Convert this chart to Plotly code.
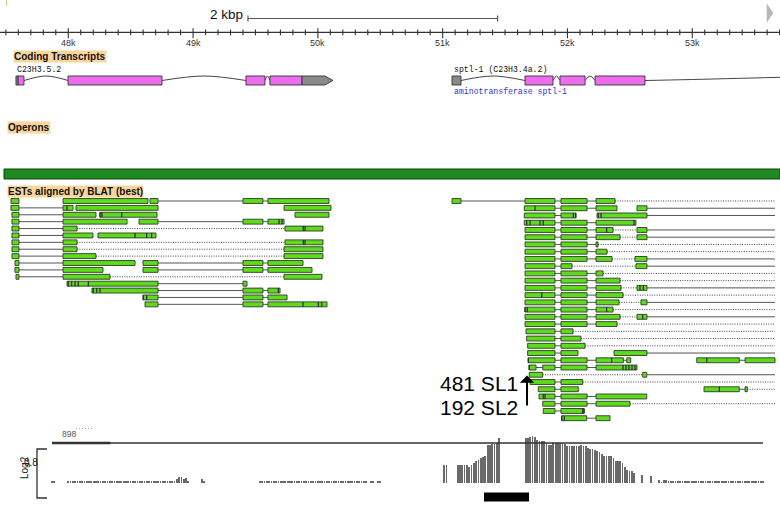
import plotly.graph_objects as go

W, H = 780, 509
VIEW_BP = [47453, 53703]          # visible genomic window (bp)
EST_EDGE = 53663                  # right edge of EST track

# ---------------- ruler ----------------
ruler_major_bp = [48000, 49000, 50000, 51000, 52000, 53000]
ruler_major_lab = ["48k", "49k", "50k", "51k", "52k", "53k"]
ruler_minor_bp = list(range(47500, 53701, 100))
scale_bar_bp = [49440, 51440]
scale_bar_label = "2 kbp"

track_titles = ["Coding Transcripts", "Operons", "ESTs aligned by BLAT (best)"]

# ---------------- gene models ----------------
gene_labels = ["C23H3.5.2", "sptl-1 (C23H3.4a.2)"]
gene_label_bp = [47573, 51073]
gene_desc = "aminotransferase sptl-1"
gene1_cap = [47581, 47597]
gene1_cds = [[47597, 47645], [47998, 48751], [49424, 49576], [49616, 49873]]
gene1_utr3 = [49873, 50057, 50121]
gene1_introns = [[47645, 47998], [48751, 49424], [49576, 49616]]
gene2_utr5 = [51075, 51147]
gene2_cds = [[51660, 51884], [51940, 52141], [52221, 52621]]
gene2_introns = [[51147, 51660], [51884, 51940], [52141, 52221]]
gene2_open_intron = [52621, 53000, 53703]

operon_span = [47485, 53703]

# ---------------- ESTs (left cluster) ----------------
left_exons = [
    [[47541, 47605], [47958, 48639], [48655, 48719], [49400, 49560], [49600, 50089]],
    [[47541, 47605], [47958, 48038], [48062, 48719], [49729, 50105]],
    [[47549, 47605], [47958, 48222], [48254, 48711], [49817, 50089]],
    [[47549, 47605], [47958, 48471], [48567, 48719], [49400, 49560], [49600, 49729]],
    [[47549, 47605], [47958, 48070], [49737, 50041]],
    [[47549, 47605], [47958, 48198], [48238, 48703]],
    [[47549, 47605], [47958, 48070], [49737, 50041]],
    [[47549, 47605], [47958, 48070], [49729, 50041]],
    [[47549, 47605], [47958, 48222], [49729, 50041]],
    [[47573, 47605], [47958, 48535], [48599, 48719], [49400, 49560], [49600, 49881]],
    [[47573, 47605], [47958, 48278], [48599, 48719], [49400, 49560], [49600, 49953]],
    [[47581, 47605], [47958, 48334], [49729, 50033]],
    [[47990, 48719], [49400, 49432]],
    [[48190, 48719], [49400, 49560], [49600, 49697]],
    [[48599, 48719], [49400, 49560], [49600, 49753]],
    [[48615, 48719], [49400, 49560], [49600, 50073]],
]
left_links = [
    ["", "", "solid", "solid"], ["solid", "", ""], ["solid", "", ""],
    ["solid", "", "solid", "solid"], ["solid", "dotted"], ["solid", ""],
    ["solid", "dotted"], ["solid", "dotted"], ["solid", "dotted"],
    ["solid", "", "solid", "solid"], ["solid", "", "solid", "solid"],
    ["solid", "dotted"], ["solid"], ["solid", "solid"], ["solid", "solid"],
    ["solid", "solid"],
]
left_tails = [""] * 16
left_marks = [(1, 47990), (2, 48254), (2, 48270), (2, 48428), (3, 49689), (3, 49713),
              (4, 49883), (4, 49897), (5, 48535), (5, 48628), (5, 48668),
              (6, 49883), (6, 49897), (12, 48000), (12, 48027), (12, 48054),
              (12, 48080), (12, 48161), (13, 48201), (13, 48228), (13, 48254),
              (13, 49683), (14, 48601), (14, 48628), (15, 49881), (15, 50004),
              (15, 50031)]

# ---------------- ESTs (right cluster) ----------------
right_exons = [
    [[51075, 51147], [51660, 51900], [51948, 52157], [52229, 52381]],
    [[51654, 51900], [51948, 52157], [52229, 52397], [52557, 52637]],
    [[51654, 51900], [51948, 52068], [52237, 52637]],
    [[51654, 51900], [51948, 52157], [52229, 52549]],
    [[51660, 51900], [51948, 52157], [52229, 52365], [52557, 52637]],
    [[51660, 51900], [51948, 52157], [52229, 52421], [52557, 52637]],
    [[51660, 51900], [51948, 52157], [52229, 52245]],
    [[51660, 51900], [51948, 52157], [52229, 52317]],
    [[51660, 51900], [51948, 52157], [52229, 52357], [52541, 52637]],
    [[51660, 51900], [51948, 52036], [52549, 52637]],
    [[51660, 51900], [51948, 52157], [52229, 52285]],
    [[51660, 51900], [51948, 52157], [52229, 52421]],
    [[51660, 51900], [51948, 52157], [52229, 52429], [52557, 52637]],
    [[51660, 51900], [51948, 52157], [52229, 52445]],
    [[51660, 51900], [51948, 52157], [52229, 52413], [52589, 52637]],
    [[51660, 51900], [51948, 52157], [52229, 52365]],
    [[51660, 51900], [51948, 52157], [52229, 52421], [52557, 52637]],
    [[51660, 51900], [51948, 52157], [52229, 52397]],
    [[51668, 51900], [51948, 52044]],
    [[51673, 51900], [51948, 52108]],
    [[51681, 51900], [51948, 52141]],
    [[51681, 51900], [51948, 52084], [52373, 52637]],
    [[51686, 51900], [51948, 52157], [52229, 52448], [52475, 52507], [53036, 53377], [53423, 53663]],
    [[51692, 51748], [51802, 51900], [51948, 52157], [52229, 52557]],
    [[51694, 51801], [52603, 52635]],
    [[51700, 51900], [51948, 52122]],
    [[51766, 51900], [51948, 52087], [53094, 53377], [53423, 53441]],
    [[51772, 51900], [51948, 52157], [52229, 52635]],
    [[51802, 51900], [51948, 52157], [52229, 52501]],
    [[51806, 51900], [51948, 52133]],
    [[51954, 52154], [52229, 52341]],
]
right_links = [
    ["solid", "solid", "solid"], ["solid", "solid", ""], ["solid", ""],
    ["solid", "solid"], ["solid", "solid", "dotted"], ["solid", "solid", "dotted"],
    ["solid", "solid"], ["solid", "solid"], ["solid", "solid", "dotted"],
    ["solid", "dotted"], ["solid", "solid"], ["solid", "solid"],
    ["solid", "solid", "dotted"], ["solid", "solid"], ["solid", "solid", "dotted"],
    ["solid", "solid"], ["solid", "solid", "dotted"], ["solid", "solid"],
    ["solid"], ["solid"], ["solid"], ["solid", ""],
    ["solid", "solid", "solid", "", "solid"], ["solid", "solid", "solid"],
    ["dotted"], ["solid"], ["solid", "", "solid"], ["solid", "solid"],
    ["solid", "solid"], ["solid"], ["solid"],
]
right_tails = ["dotted", "solid", "solid", "", "solid", "solid", "dotted", "dotted",
               "solid", "solid", "dotted", "dotted", "solid", "dotted", "solid",
               "dotted", "solid", "dotted", "dotted", "dotted", "dotted", "solid",
               "", "", "solid", "dotted", "dotted", "", "dotted", "", ""]
right_marks = [(1, 51740), (2, 52047), (2, 52066), (2, 52247), (2, 52269),
               (3, 51673), (3, 51700), (3, 51780), (3, 51806), (3, 52533),
               (4, 52314), (12, 52581), (12, 52608), (13, 51794), (15, 51660),
               (15, 51678), (15, 52314), (16, 52603), (22, 51686), (22, 52354),
               (22, 53116), (23, 51694), (23, 52445), (23, 52469), (23, 52493),
               (23, 52517), (23, 52541), (26, 53217), (27, 51806), (27, 51820),
               (29, 52122), (29, 52133), (30, 51954), (30, 51975)]

# ---------------- arrow call-out ----------------
arrow_bp = 51676
arrow_labels = ["481 SL1", "192 SL2"]

# ---------------- coverage histogram (Log2) ----------------
HIST_BIN = 18.5
hist_seg_start = [47870, 48000, 49069, 49536, 51013, 51120, 51665, 52595, 52736]
hist_seg_values = [
    [2, 2],
    [2, 2, 2, 2, 2, 2, 2, 2, 2, 2, 2, 2, 2, 2, 2, 2, 2, 2, 2, 2, 2, 2, 2, 2,
     2, 2, 2, 2, 2, 2, 2, 2, 2, 2, 2, 2, 2, 2, 2, 2, 2, 2, 2, 2, 2, 2, 2,
     4, 6, 6, 4, 5, 2],
    [4, 2],
    [2, 2, 2, 2, 2, 2, 2, 2, 2, 2, 2, 2, 2, 2, 2, 2, 2, 2, 2, 2, 2, 2, 2, 2,
     2, 2, 2, 2, 2, 2, 2, 2, 2, 2, 2, 2, 2, 2, 2, 2, 2, 2, 2, 2, 2, 2, 2,
     0, 2, 2, 0, 2, 2],
    [18, 18],
    [18, 18, 18, 18, 18, 16, 18, 20, 22, 23, 25, 26, 27, 38, 38, 39, 39, 40, 45],
    [45, 45, 46, 47, 46, 43, 42, 42, 42, 40, 38, 38, 40, 40, 40, 40, 40, 39,
     37, 37, 37, 37, 37, 37, 38, 37, 37, 35, 34, 34, 33, 32, 31, 29, 27, 27,
     27, 27, 25, 22, 22, 22, 20, 16, 13, 12, 12, 10],
    [8, 0, 0, 0, 7],
    [3, 1, 3, 3, 2, 2, 2, 2, 2, 2, 2, 2, 2, 2, 2, 2, 2, 2, 2, 2, 2, 2, 2, 2,
     2, 2, 2, 2, 2, 2, 2, 2, 2, 2, 2, 2, 2, 2, 2, 2, 2, 2, 2, 2, 2, 2],
]
hist_frame_bp = [47870, 48337, 53567]
hist_axis_labels = ["Log2", "0.8", "898"]
probe_span = [51331, 51692]

# =====================================================================
FONT = "Liberation Sans, Arial, sans-serif"
MONO = "Liberation Mono, DejaVu Sans Mono, monospace"
EST_FILL, EST_EDGE_COL = "#5edb1c", "#2e3a28"
PINK, GREY = "#ee6cee", "#8a8a8a"

fig = go.Figure()


def boxes(spans, yc, hh):
    xs, ys = [], []
    for s, e in spans:
        xs += [s, e, e, s, s, None]
        ys += [yc - hh, yc - hh, yc + hh, yc + hh, yc - hh, None]
    return xs, ys


# ---------- ruler ----------
tx, ty = [], []
for b in ruler_minor_bp:
    major = b in ruler_major_bp
    tx += [b, b, None]
    ty += [28.3 if major else 29.5, 38.3 if major else 35.3, None]
fig.add_trace(go.Scatter(x=tx, y=ty, mode="lines", line=dict(color="#333", width=1.1),
                         hoverinfo="skip"))
fig.add_trace(go.Scatter(x=[scale_bar_bp[0], scale_bar_bp[0], None, scale_bar_bp[0], scale_bar_bp[1],
                            None, scale_bar_bp[1], scale_bar_bp[1]],
                         y=[15.5, 21.5, None, 18.5, 18.5, None, 15.5, 21.5], mode="lines",
                         line=dict(color="#555", width=1.2), hoverinfo="skip"))

# ---------- gene models ----------
def intron(a, b, yb, peak):
    fig.add_trace(go.Scatter(x=[a, (a + b) / 2, b], y=[yb, yb - peak, yb], mode="lines",
                             line=dict(color="#444", width=1, shape="spline"), hoverinfo="skip"))

GY, GH = 80.5, 4.5
for a, b in gene1_introns + gene2_introns:
    intron(a, b, GY, 4.5)
fig.add_trace(go.Scatter(x=gene2_open_intron, y=[GY, GY - 1.0, GY - 3.2], mode="lines",
                         line=dict(color="#444", width=1, shape="spline"), hoverinfo="skip"))
xs, ys = boxes(gene1_cds + gene2_cds, GY, GH)
fig.add_trace(go.Scatter(x=xs, y=ys, mode="lines", fill="toself", fillcolor=PINK,
                         line=dict(color="#333", width=0.9), hoverinfo="skip"))
u0, u1, tip = gene1_utr3
gx = [u0, u1, tip, u1, u0, u0, None]
gy = [GY - GH, GY - GH, GY, GY + GH, GY + GH, GY - GH, None]
bx, by = boxes([gene2_utr5, gene1_cap], GY, GH)
fig.add_trace(go.Scatter(x=gx + bx, y=gy + by, mode="lines", fill="toself", fillcolor=GREY,
                         line=dict(color="#333", width=0.9), hoverinfo="skip"))

# ---------- ESTs ----------
def est_group(exons_l, links_l, tails_l, marks, y0, dy):
    sx, sy, dx, dyy, bx, by, mx, my = [], [], [], [], [], [], [], []
    hh = 2.45
    for lane, (ex, lk, tl) in enumerate(zip(exons_l, links_l, tails_l)):
        yc = y0 + dy * lane
        for i, kind in enumerate(lk):
            a, b = ex[i][1], ex[i + 1][0]
            if kind == "solid":
                sx += [a, b, None]; sy += [yc, yc, None]
            elif kind == "dotted":
                dx += [a, b, None]; dyy += [yc, yc, None]
        if tl == "solid":
            sx += [ex[-1][1], EST_EDGE, None]; sy += [yc, yc, None]
        elif tl == "dotted":
            dx += [ex[-1][1], EST_EDGE, None]; dyy += [yc, yc, None]
        x_, y_ = boxes(ex, yc, hh)
        bx += x_; by += y_
    for lane, b in marks:
        yc = y0 + dy * lane
        mx += [b, b, None]; my += [yc - hh, yc + hh, None]
    fig.add_trace(go.Scatter(x=sx, y=sy, mode="lines", line=dict(color="#555", width=1),
                             hoverinfo="skip"))
    fig.add_trace(go.Scatter(x=dx, y=dyy, mode="lines",
                             line=dict(color="#444", width=1, dash="1px,1.4px"), hoverinfo="skip"))
    fig.add_trace(go.Scatter(x=bx, y=by, mode="lines", fill="toself", fillcolor=EST_FILL,
                             line=dict(color=EST_EDGE_COL, width=0.9), hoverinfo="skip"))
    fig.add_trace(go.Scatter(x=mx, y=my, mode="lines", line=dict(color="#2a2a2a", width=1.2),
                             hoverinfo="skip"))

est_group(left_exons, left_links, left_tails, left_marks, 201.0, 6.89)
est_group(right_exons, right_links, right_tails, right_marks, 201.0, 7.24)

# ---------- histogram ----------
hx, hy = [], []
for s, vals in zip(hist_seg_start, hist_seg_values):
    for i, v in enumerate(vals):
        hx.append(s + i * HIST_BIN); hy.append(v)
fig.add_trace(go.Bar(x=hx, y=hy, width=6, marker=dict(color="#6a6a6a", line=dict(width=0)),
                     yaxis="y2", hoverinfo="skip"))

# ---------- shapes ----------
P = lambda px: px / W
shapes = [
    dict(type="line", xref="paper", yref="y", x0=0, x1=1, y0=32.3, y1=32.3,
         line=dict(color="#333", width=1.3)),
    dict(type="rect", xref="x", yref="y", x0=operon_span[0], x1=operon_span[1], y0=169, y1=179,
         fillcolor="#1f8a1f", line=dict(color="#124012", width=1)),
    dict(type="line", xref="x", yref="y", x0=hist_frame_bp[0], x1=hist_frame_bp[2], y0=443, y1=443,
         line=dict(color="#333", width=1.6), layer="above"),
    dict(type="line", xref="x", yref="y", x0=hist_frame_bp[0], x1=hist_frame_bp[1], y0=443, y1=443,
         line=dict(color="#333", width=2.4), layer="above"),
    dict(type="path", xref="paper", yref="y",
         path=f"M {P(47)},449 L {P(37)},449 L {P(37)},498 L {P(47)},498",
         line=dict(color="#333", width=1.3)),
    dict(type="rect", xref="x", yref="y", x0=probe_span[0], x1=probe_span[1], y0=492.5, y1=501.5,
         fillcolor="#000", line=dict(width=0)),
    dict(type="line", xref="paper", yref="y", x0=P(76), x1=P(92), y0=428.5, y1=428.5,
         line=dict(color="#aaa", width=1, dash="1px,2px")),
    dict(type="path", xref="paper", yref="y",
         path=f"M {P(766.7)},3.3 L {P(773.3)},13 L {P(766.7)},22.7 Z",
         fillcolor="#b8b8b8", line=dict(width=0)),
    dict(type="line", xref="paper", yref="y", x0=P(6.5), x1=P(6.5), y0=0, y1=6,
         line=dict(color="#d8c49a", width=1.2)),
]

# ---------- annotations ----------
ann = []
for b, lab in zip(ruler_major_bp, ruler_major_lab):
    ann.append(dict(x=b, y=42.7, xref="x", yref="y", text=lab, showarrow=False,
                    font=dict(family=FONT, size=9, color="#333")))
ann.append(dict(x=scale_bar_bp[0] - 25, y=14.5, xref="x", yref="y", text=scale_bar_label,
                xanchor="right", showarrow=False, font=dict(family=FONT, size=13.5, color="#111")))
for (xpx, ypx), t in zip([(12.7, 56), (7.3, 127), (7.3, 191.5)], track_titles):
    ann.append(dict(x=P(xpx), y=ypx, xref="paper", yref="y", text=f"<b>{t}</b>", xanchor="left",
                    showarrow=False, bgcolor="#f9d69c", borderpad=0,
                    font=dict(family=FONT, size=10, color="#111")))
for b, t in zip(gene_label_bp, gene_labels):
    ann.append(dict(x=b, y=69, xref="x", yref="y", text=t, xanchor="left", showarrow=False,
                    font=dict(family=MONO, size=8.2, color="#111")))
ann.append(dict(x=gene_label_bp[1], y=91, xref="x", yref="y", text=gene_desc, xanchor="left",
                showarrow=False, font=dict(family=MONO, size=8.2, color="#3434d8")))
ann.append(dict(x=arrow_bp, y=375.5, xref="x", yref="y", ax=arrow_bp, ay=407, axref="x", ayref="y",
                text="", showarrow=True, arrowhead=1, arrowsize=1.2, arrowwidth=2, arrowcolor="#000"))
for yy, t in zip([383.5, 407.5], arrow_labels):
    ann.append(dict(x=arrow_bp - 56, y=yy, xref="x", yref="y", text=t, xanchor="right",
                    showarrow=False, font=dict(family=FONT, size=21, color="#000")))
ann.append(dict(x=P(16.5), y=468, xref="paper", yref="y", text=hist_axis_labels[0],
                textangle=-90, showarrow=False, font=dict(family=FONT, size=10, color="#222")))
ann.append(dict(x=P(21.5), y=462.5, xref="paper", yref="y", text=hist_axis_labels[1],
                showarrow=False, font=dict(family=FONT, size=10, color="#222")))
ann.append(dict(x=P(59.7), y=433.5, xref="paper", yref="y", text=hist_axis_labels[2],
                showarrow=False, font=dict(family=FONT, size=8.5, color="#555")))

fig.update_layout(
    width=W, height=H, margin=dict(l=0, r=0, t=0, b=0),
    paper_bgcolor="white", plot_bgcolor="white", showlegend=False,
    xaxis=dict(range=VIEW_BP, visible=False, fixedrange=True),
    yaxis=dict(range=[H, 0], visible=False, fixedrange=True, domain=[0, 1]),
    yaxis2=dict(range=[0, 50], visible=False, anchor="x",
                domain=[1 - 483 / H, 1 - 433 / H]),
    shapes=shapes, annotations=ann, bargap=0,
)
fig.write_html("out.html", config={"displayModeBar": False},
               post_script="document.body.style.margin='0px';document.body.style.overflow='hidden';")
